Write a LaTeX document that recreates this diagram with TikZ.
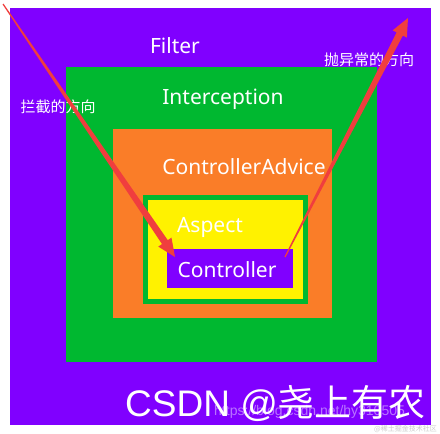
\documentclass[tikz,border=0pt]{standalone}
\usepackage{fontspec}
\setmainfont{Noto Sans}
\newfontfamily\cjk{Noto Sans CJK SC}
\newfontfamily\wmfont{Liberation Sans}
\usetikzlibrary{calc}
\definecolor{fpurple}{RGB}{128,0,255}
\definecolor{fgreen}{RGB}{0,184,48}
\definecolor{forange}{RGB}{250,125,40}
\definecolor{fyellow}{RGB}{255,242,0}
\definecolor{fred}{RGB}{240,62,62}
\newcommand\tapearrow[2]{%
  \coordinate (hb) at ($(#2)!18pt!(#1)$);
  \fill[fred] ($(#1)!0.6pt!90:(#2)$) -- ($(hb)!3.5pt!90:(#2)$) -- ($(hb)!8pt!90:(#2)$)
    -- (#2) -- ($(hb)!8pt!-90:(#2)$) -- ($(hb)!3.5pt!-90:(#2)$) -- ($(#1)!0.6pt!-90:(#2)$) -- cycle;
}
\begin{document}
\begin{tikzpicture}[x=1pt,y=-1pt,
  lbl/.style={text=white,font=\fontsize{21}{23}\selectfont,inner sep=0pt},
  cnlbl/.style={text=white,font=\cjk\fontsize{15}{17}\selectfont,inner sep=0pt}]
\useasboundingbox (0,0) rectangle (440,434);
\fill[white] (0,0) rectangle (440,434);
\fill[fpurple] (10,8) rectangle (431,425);
\fill[fgreen] (66,67) rectangle (377,362);
\fill[forange] (113,129) rectangle (332,318);
\fill[fgreen] (143,195) rectangle (308,304);
\fill[fyellow] (148,200) rectangle (303,299);
\fill[fpurple] (167,249) rectangle (293,288);
\node[lbl] (filter) at (175,46) {Filter};
\node[lbl] (inter) at (223,99) {Interception};
\node[lbl] (advice) at (244,167) {ControllerAdvice};
\node[lbl] (aspect) at (210,227) {Aspect};
\node[lbl] (ctrl) at (227,270) {Controller};
\node[cnlbl] (inlbl) at (58,107) {拦截的方向};
\node[cnlbl] (outlbl) at (369,60) {抛异常的方向};
\coordinate (inS) at (3,4);
\coordinate (inT) at (175,257);
\coordinate (outS) at (285,257);
\coordinate (outT) at (408,18);
\tapearrow{inS}{inT}
\tapearrow{outS}{outT}
\node[anchor=west,text=white,font=\wmfont\fontsize{37}{39}\selectfont,inner sep=0pt] (wm) at (125,403) {CSDN @{\cjk 尧上有农}};
\node[anchor=west,text=white,opacity=0.45,font=\wmfont\fontsize{14}{16}\selectfont,inner sep=0pt] (url) at (214,412) {https://blog.csdn.net/hy310505};
\node[anchor=east,text=gray!40,font=\cjk\fontsize{7}{8}\selectfont,inner sep=0pt] (wm2) at (437,429) {@稀土掘金技术社区};
\end{tikzpicture}
\end{document}
